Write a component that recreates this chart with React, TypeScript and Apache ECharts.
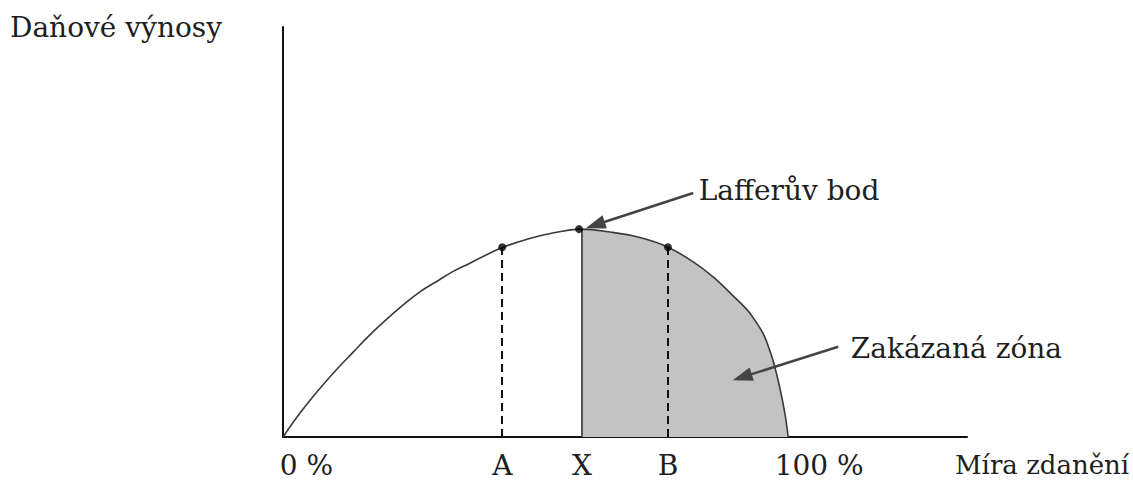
import React, { useEffect, useRef } from "react";
import * as echarts from "echarts";

// Laffer curve: tax rate (%) vs. tax revenue (relative units)
const taxRate = [0, 3.4, 6.7, 10.7, 13.9, 17.2, 20.6, 23.8, 27.1, 30.5, 33.7, 37.0, 40.4, 43.4, 46.9, 50.3, 54.5, 59.0, 64.8, 70.5, 76.2, 81.2, 85.2, 88.7, 91.9, 93.5, 95.1, 96.2, 97.2, 98.4, 99.4, 100];
const revenue = [0, 5.9, 11.0, 16.6, 20.7, 24.9, 28.8, 32.2, 35.4, 38.0, 40.4, 42.4, 44.5, 46.2, 47.7, 48.9, 50.0, 50.7, 50.0, 48.7, 46.3, 42.7, 39.0, 34.9, 31.0, 28.3, 25.1, 21.7, 17.8, 11.7, 5.4, 0];

const tickValues = [0, 43.4, 59.2, 76.2, 100];
const tickNames = ["0 %", "A", "X", "B", "100 %"];

const pointNames = ["A", "X", "B"];
const pointX = [43.4, 58.6, 76.2];
const pointY = [46.3, 50.7, 46.3];

const lineX = [43.4, 59.2, 76.2];
const lineTop = [46.3, 50.7, 46.3];

const peakX = 59.0;
const xMax = 135.4;
const yMax = 100;

const annotationTexts = ["Lafferův bod", "Zakázaná zóna"];
const annotationAt = [
  [82.2, 60.2],
  [112.3, 21.7],
];
const arrowFrom = [
  [81.2, 59.5],
  [109.9, 22.0],
];
const arrowTo = [
  [61.8, 51.7],
  [90.9, 14.6],
];

const FONT = "DejaVu Serif";
const FS = 28;
const FS_NAME = 26;
const TXT = "#1e1e1e";

export default function App() {
  const ref = useRef<HTMLDivElement>(null);
  useEffect(() => {
    document.body.style.margin = "0";
    if (!ref.current) return;
    const chart = echarts.init(ref.current, null, { renderer: "svg" });
    const curve = taxRate.map((x, i) => [x, revenue[i]]);
    const zone = curve.filter((p) => p[0] >= peakX);

    const nameFor = (v: number) => {
      let best = 0;
      tickValues.forEach((t, i) => {
        if (Math.abs(t - v) < Math.abs(tickValues[best] - v)) best = i;
      });
      return best;
    };

    const option: any = {
      animation: false,
      backgroundColor: "#ffffff",
      grid: { left: 283, right: 166, top: 27, bottom: 43, containLabel: false, outerBoundsMode: "none" },
      xAxis: {
        type: "value",
        min: 0,
        max: xMax,
        splitLine: { show: false },
        axisTick: { show: false },
        axisLine: { show: true, onZero: false, lineStyle: { color: "#111", width: 2 } },
        axisLabel: {
          customValues: tickValues,
          margin: 17,
          color: TXT,
          fontFamily: FONT,
          fontSize: FS,
          lineHeight: 22,
          formatter: (v: number) => {
            const i = nameFor(v);
            if (i === 0) return "{e0|" + tickNames[i] + "}";
            if (i === tickNames.length - 1) return "{e1|" + tickNames[i] + "}";
            return "{c|" + tickNames[i] + "}";
          },
          rich: {
            c: { fontFamily: FONT, fontSize: FS, color: TXT, lineHeight: 22 },
            e0: { fontFamily: FONT, fontSize: FS, color: TXT, lineHeight: 22, padding: [0, 0, 0, 47] },
            e1: { fontFamily: FONT, fontSize: FS, color: TXT, lineHeight: 22, padding: [0, 0, 0, 62] },
          },
        },
        name: "{n|Míra zdanění}",
        nameLocation: "end",
        nameGap: -12,
        nameTextStyle: {
          fontFamily: FONT,
          fontSize: FS_NAME,
          color: TXT,
          align: "left",
          verticalAlign: "middle",
          rich: {
            n: { fontFamily: FONT, fontSize: FS_NAME, color: TXT, lineHeight: 22, padding: [56, 0, 0, 0] },
          },
        },
      },
      yAxis: {
        type: "value",
        min: 0,
        max: yMax,
        splitLine: { show: false },
        axisTick: { show: false },
        axisLabel: { show: false },
        axisLine: { show: true, onZero: false, lineStyle: { color: "#111", width: 2 } },
        name: "Daňové výnosy",
        nameLocation: "end",
        nameGap: 0,
        nameTextStyle: {
          fontFamily: FONT,
          fontSize: FS,
          color: TXT,
          align: "right",
          verticalAlign: "middle",
          padding: [0, 61, 0, 0],
        },
      },
      series: [
        {
          type: "line",
          name: "Zakázaná zóna",
          data: zone,
          smooth: 0.4,
          symbol: "none",
          lineStyle: { width: 0 },
          areaStyle: { color: "#c3c3c3", opacity: 1 },
          z: 1,
          silent: true,
        },
        {
          type: "line",
          name: "Lafferova křivka",
          data: curve,
          smooth: 0.4,
          symbol: "none",
          lineStyle: { color: "#3a3a3a", width: 1.6 },
          z: 3,
          markLine: {
            silent: true,
            symbol: ["none", "none"],
            label: { show: false },
            data: lineX.map((x, i) => [
              {
                coord: [x, 0],
                lineStyle: {
                  color: i === 1 ? "#555" : "#111",
                  width: 2,
                  type: i === 1 ? "solid" : [8, 5],
                },
              },
              { coord: [x, lineTop[i]] },
            ]),
          },
          markPoint: {
            silent: true,
            symbol: "circle",
            symbolSize: 1,
            itemStyle: { color: "rgba(0,0,0,0)" },
            label: {
              show: true,
              position: "right",
              distance: 0,
              fontFamily: FONT,
              fontSize: FS,
              color: TXT,
              formatter: (p: any) => p.name,
            },
            data: annotationTexts.map((t, i) => ({ name: t, coord: annotationAt[i] })),
          },
        },
        {
          type: "line",
          name: "Šipky",
          data: [],
          markLine: {
            silent: true,
            symbol: ["none", "triangle"],
            symbolSize: [14, 20],
            label: { show: false },
            lineStyle: { color: "#444", width: 2.5, type: "solid" },
            itemStyle: { color: "#111" },
            data: arrowFrom.map((f, i) => [{ coord: f }, { coord: arrowTo[i] }]),
          },
          z: 4,
        },
        {
          type: "scatter",
          name: "Body",
          data: pointX.map((x, i) => ({ name: pointNames[i], value: [x, pointY[i]] })),
          symbol: "circle",
          symbolSize: 8,
          itemStyle: { color: "#000" },
          z: 5,
          silent: true,
        },
      ],
    };
    chart.setOption(option);
    return () => chart.dispose();
  }, []);
  return (
    <div
      ref={ref}
      style={{ position: "fixed", left: 0, top: 0, width: 1133, height: 480, background: "#fff" }}
    />
  );
}
